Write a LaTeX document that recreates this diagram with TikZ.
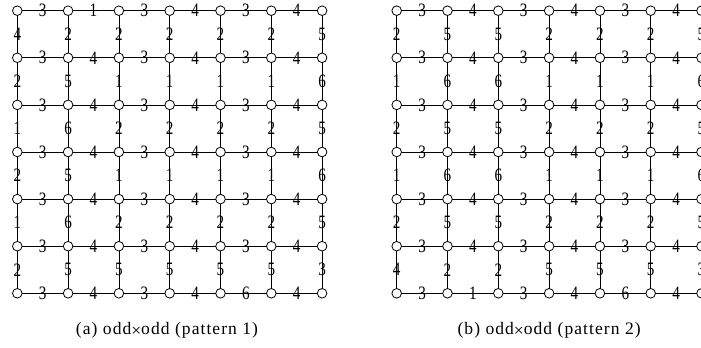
\documentclass[tikz,border=0pt]{standalone}
\usepackage{fontspec}
\setmainfont{Liberation Serif}
\newfontfamily\capfont[LetterSpace=6]{Liberation Serif}
\newcommand{\dg}[1]{\scalebox{0.8}[1]{#1}}
\begin{document}
\begin{tikzpicture}[x=1bp,y=-1bp,
  every node/.style={inner sep=0pt,outer sep=0pt},
  vtx/.style={circle,draw,fill=white,minimum size=9.6bp,line width=0.8bp},
  edg/.style={line width=0.8bp},
  lbl/.style={font=\fontsize{19}{19}\selectfont},
  captxt/.style={font=\capfont\fontsize{17.6}{18}\selectfont}]
\useasboundingbox (0,0) rectangle (701,347);
% vertices
\foreach \g/\xo in {L/17.3,R/396.7}{
  \foreach \i in {0,...,6}{
    \foreach \j in {0,...,6}{
      \node[vtx] (\g-\i-\j) at ({\xo+\i*50.8},{10.7+\j*47.1}) {};
    }
  }
}
% horizontal edges, left grid
\foreach \j/\labs in {0/{3,1,3,4,3,4},1/{3,4,3,4,3,4},2/{3,4,3,4,3,4},3/{3,4,3,4,3,4},4/{3,4,3,4,3,4},5/{3,4,3,4,3,4},6/{3,4,3,4,6,4}}{
  \foreach \l [count=\i from 0] in \labs {
    \pgfmathtruncatemacro\ii{\i+1}
    \draw[edg] (L-\i-\j) -- node[lbl]{\dg{\l}} (L-\ii-\j);
  }
}
% horizontal edges, right grid
\foreach \j/\labs in {0/{3,4,3,4,3,4},1/{3,4,3,4,3,4},2/{3,4,3,4,3,4},3/{3,4,3,4,3,4},4/{3,4,3,4,3,4},5/{3,4,3,4,3,4},6/{3,1,3,4,6,4}}{
  \foreach \l [count=\i from 0] in \labs {
    \pgfmathtruncatemacro\ii{\i+1}
    \draw[edg] (R-\i-\j) -- node[lbl]{\dg{\l}} (R-\ii-\j);
  }
}
% vertical edges, left grid
\foreach \j/\labs in {0/{4,2,2,2,2,2,5},1/{2,5,1,1,1,1,6},2/{1,6,2,2,2,2,5},3/{2,5,1,1,1,1,6},4/{1,6,2,2,2,2,5},5/{2,5,5,5,5,5,3}}{
  \foreach \l [count=\i from 0] in \labs {
    \pgfmathtruncatemacro\jj{\j+1}
    \draw[edg] (L-\i-\j) -- node[lbl]{\dg{\l}} (L-\i-\jj);
  }
}
% vertical edges, right grid
\foreach \j/\labs in {0/{2,5,5,2,2,2,5},1/{1,6,6,1,1,1,6},2/{2,5,5,2,2,2,5},3/{1,6,6,1,1,1,6},4/{2,5,5,2,2,2,5},5/{4,2,2,5,5,5,3}}{
  \foreach \l [count=\i from 0] in \labs {
    \pgfmathtruncatemacro\jj{\j+1}
    \draw[edg] (R-\i-\j) -- node[lbl]{\dg{\l}} (R-\i-\jj);
  }
}
% captions
\node[captxt] (capa) at (167,330.5) {(a) odd\raisebox{-0.12em}{×}odd (pattern 1)};
\node[captxt] (capb) at (549.1,330.5) {(b) odd\raisebox{-0.12em}{×}odd (pattern 2)};
\end{tikzpicture}
\end{document}
